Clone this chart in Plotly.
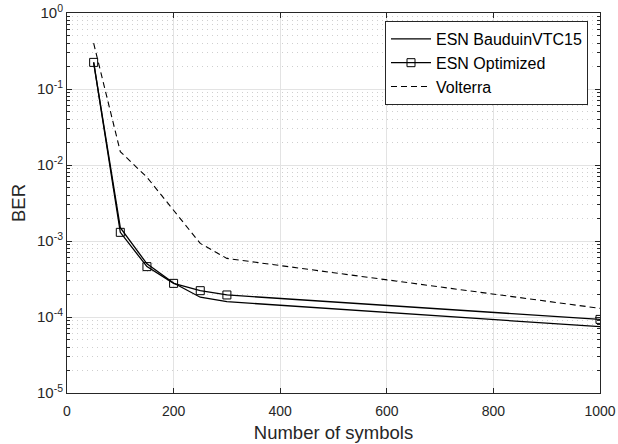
import plotly.graph_objects as go

symbols = [50, 100, 150, 200, 250, 300, 1000]
ber_bauduin = [0.224, 1.5e-3, 5.0e-4, 2.8e-4, 1.82e-4, 1.59e-4, 7.45e-5]
ber_optimized = [0.224, 1.3e-3, 4.6e-4, 2.77e-4, 2.22e-4, 1.95e-4, 9.3e-5]
ber_volterra = [0.40, 0.0150, 0.0069, 0.0025, 9.3e-4, 5.9e-4, 1.3e-4]

y_tickvals = [1e-5, 1e-4, 1e-3, 1e-2, 1e-1, 1]
y_ticktext = ["10<sup>-5</sup>", "10<sup>-4</sup>", "10<sup>-3</sup>",
              "10<sup>-2</sup>", "10<sup>-1</sup>", "10<sup>0</sup>"]
x_tickvals = [0, 200, 400, 600, 800, 1000]

FONT = "Liberation Sans, Arial, Helvetica, sans-serif"
AX = "#262626"

fig = go.Figure()
fig.add_trace(go.Scatter(x=symbols, y=ber_bauduin, mode="lines", name="ESN BauduinVTC15",
                         line=dict(color="black", width=1.3)))
fig.add_trace(go.Scatter(x=symbols, y=ber_optimized, mode="lines+markers", name="ESN Optimized",
                         line=dict(color="black", width=1.3),
                         marker=dict(symbol="square-open", size=8, color="black",
                                     line=dict(width=1, color="black"))))
fig.add_trace(go.Scatter(x=symbols, y=ber_volterra, mode="lines", name="Volterra",
                         line=dict(color="black", width=1.1, dash="6px,4px")))

fig.update_layout(
    width=618, height=444,
    margin=dict(l=67, r=18, t=13, b=51, autoexpand=False),
    paper_bgcolor="white", plot_bgcolor="white",
    font=dict(family=FONT, color=AX, size=14),
    showlegend=True,
    legend=dict(x=0.9775, y=0.979, xanchor="right", yanchor="top",
                bgcolor="white", bordercolor=AX, borderwidth=1,
                font=dict(size=16, color="black"), tracegroupgap=0,
                itemwidth=40),
)
fig.update_xaxes(
    range=[0, 1000], tickvals=x_tickvals, automargin=False,
    showline=True, linecolor=AX, linewidth=1, mirror="ticks",
    ticks="inside", ticklen=5, tickcolor=AX,
    showgrid=True, gridcolor="#e3e3e3", gridwidth=1,
    zeroline=False, ticklabelstandoff=5,
    tickfont=dict(size=14, color=AX),
    title=dict(text="Number of symbols", font=dict(size=18.5, color=AX), standoff=8),
)
fig.update_yaxes(
    type="log", range=[-5, 0], tickvals=y_tickvals, ticktext=y_ticktext, automargin=False,
    showline=True, linecolor=AX, linewidth=1, mirror="ticks",
    ticks="inside", ticklen=5, tickcolor=AX,
    showgrid=True, gridcolor="#e3e3e3", gridwidth=1,
    zeroline=False,
    tickfont=dict(size=15, color=AX),
    minor=dict(dtick="D1", ticks="inside", ticklen=3, tickcolor=AX,
               showgrid=True, gridcolor="#cfcfcf", griddash="1px,4px", gridwidth=1),
    title=dict(text="BER", font=dict(size=18.5, color=AX), standoff=6),
)

fig.write_html("out.html")
